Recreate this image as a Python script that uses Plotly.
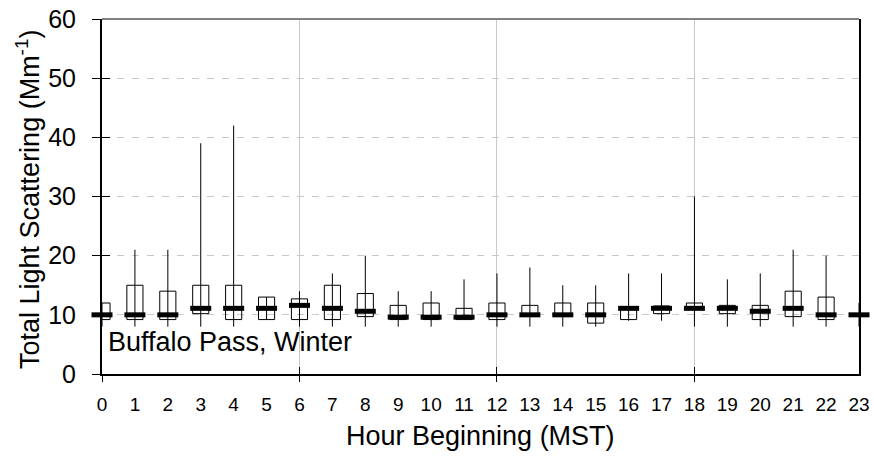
import plotly.graph_objects as go

# Hourly light-scattering statistics, Buffalo Pass (winter)
hours = list(range(24))
hour_labels = [str(h) for h in hours]
q1 = [9.2, 9.2, 9.2, 10.2, 9.2, 9.2, 9.2, 9.2, 9.7, 9.2, 9.2, 9.2,
      9.2, 9.8, 9.8, 8.6, 9.2, 10.2, 10.9, 10.2, 9.2, 9.7, 9.2, 10.2]
median = [10.0, 10.0, 10.0, 11.1, 11.1, 11.1, 11.6, 11.1, 10.6, 9.6, 9.6, 9.6,
          10.0, 10.0, 10.0, 10.0, 11.1, 11.1, 11.1, 11.1, 10.6, 11.1, 10.0, 10.0]
q3 = [12.0, 15.0, 14.0, 15.0, 15.0, 13.0, 12.7, 15.0, 13.6, 11.6, 12.0, 11.1,
      12.0, 11.6, 12.0, 12.0, 11.1, 11.5, 12.0, 11.6, 11.6, 14.0, 13.0, 11.0]
low = [8.0, 8.0, 8.0, 8.0, 8.0, 9.2, 8.0, 8.0, 8.0, 8.0, 8.0, 9.2,
       8.0, 8.0, 8.0, 8.0, 9.0, 9.0, 8.0, 8.0, 8.0, 8.0, 8.0, 8.0]
high = [12.0, 21.0, 21.0, 39.0, 42.0, 13.0, 14.0, 17.0, 20.0, 14.0, 14.0, 16.0,
        17.0, 18.0, 15.0, 15.0, 17.0, 17.0, 30.0, 16.0, 17.0, 21.0, 20.0, 12.0]
y_ticks = [0, 10, 20, 30, 40, 50, 60]
grid_hours = [0, 6, 12, 18]

FONT = "Liberation Sans, Arial, sans-serif"

# plot-area edges in pixels, used to place the free-floating labels
L, R, T, B = 102, 859, 19, 374
W, H = R - L, B - T


def px_x(px):
    return (px - L) / W


def px_y(py):
    return (B - py) / H


fig = go.Figure()

# open boxes (quartiles)
fig.add_trace(go.Box(
    x=hours, q1=q1, median=median, q3=q3,
    lowerfence=q1, upperfence=q3,
    width=0.49, whiskerwidth=0,
    fillcolor="rgba(0,0,0,0)",
    line=dict(color="black", width=1),
    boxpoints=False, showlegend=False, hoverinfo="skip",
))

# low-high range lines and heavy median bars
fig.add_trace(go.Scatter(
    x=hours, y=median, mode="markers",
    marker=dict(symbol="line-ew", size=15, color="black",
                line=dict(color="black", width=5)),
    error_y=dict(type="data", symmetric=False,
                 array=[h - m for h, m in zip(high, median)],
                 arrayminus=[m - l for m, l in zip(median, low)],
                 width=0, thickness=1, color="black"),
    cliponaxis=False, showlegend=False, hoverinfo="skip",
))

# empty traces so the overlay axes (hour gridlines, crossing ticks) are drawn
for xa, ya in (("x2", "y2"), ("x3", "y2")):
    fig.add_trace(go.Scatter(x=[None], y=[None], xaxis=xa, yaxis=ya,
                             mode="markers", showlegend=False,
                             hoverinfo="skip"))

fig.update_layout(
    template=None,
    width=874, height=457,
    margin=dict(l=L, r=874 - R, t=T, b=457 - B, autoexpand=False),
    paper_bgcolor="white", plot_bgcolor="white",
    font=dict(family=FONT, color="black"),
    xaxis=dict(range=[0, 23], tickvals=hours, ticktext=hour_labels,
               ticks="", showgrid=False, zeroline=False, automargin=False,
               showline=True, linecolor="black", linewidth=2,
               tickfont=dict(size=19), ticklabelstandoff=12),
    xaxis2=dict(range=[0, 23], overlaying="x", anchor="y", tickvals=grid_hours,
                ticks="outside", ticklen=7, tickwidth=1, tickcolor="black",
                showticklabels=False, showgrid=True, gridcolor="#c8c8c8",
                gridwidth=1, zeroline=False, showline=False, automargin=False),
    xaxis3=dict(range=[0, 23], overlaying="x", anchor="y", tickvals=grid_hours,
                ticks="inside", ticklen=7, tickwidth=1, tickcolor="black",
                showticklabels=False, showgrid=False, zeroline=False,
                showline=False, automargin=False),
    yaxis=dict(range=[0, 60], tickvals=y_ticks, ticks="outside", ticklen=8,
               tickwidth=1, tickcolor="black", tickfont=dict(size=25),
               ticklabelstandoff=11, automargin=False,
               showgrid=True, gridcolor="#c8c8c8", griddash="7px,8px",
               gridwidth=1, zeroline=False,
               showline=True, linecolor="black", linewidth=2, mirror=True),
    yaxis2=dict(range=[0, 60], overlaying="y", anchor="x", tickvals=y_ticks,
                ticks="inside", ticklen=8, tickwidth=1, tickcolor="black",
                showticklabels=False, showgrid=False, zeroline=False,
                showline=False, automargin=False),
    shapes=[dict(type="line", xref="paper", yref="paper", x0=0, x1=1,
                 y0=1, y1=1, line=dict(color="#808080", width=2))],
    annotations=[
        dict(text="Total Light Scattering (Mm<sup>-1</sup>)", textangle=-90,
             xref="paper", yref="paper", x=px_x(28), y=px_y(200),
             xanchor="center", yanchor="middle", showarrow=False,
             font=dict(size=27, family=FONT, color="black")),
        dict(text="Hour Beginning (MST)", xref="paper", yref="paper",
             x=0.5, y=px_y(436), xanchor="center", yanchor="middle",
             showarrow=False, font=dict(size=27, family=FONT, color="black")),
        dict(text="Buffalo Pass, Winter", xref="paper", yref="paper",
             x=px_x(106), y=px_y(342), xanchor="left",
             yanchor="middle", showarrow=False,
             font=dict(size=27, family=FONT, color="black")),
    ],
)

fig.write_html("out.html")
